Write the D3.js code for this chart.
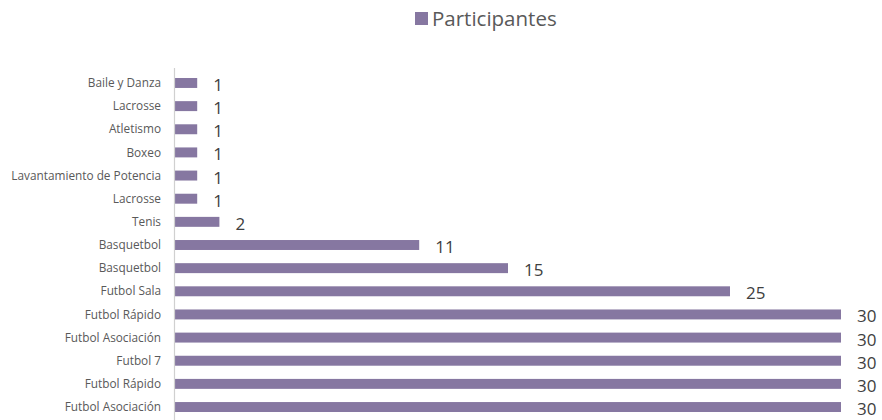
<!DOCTYPE html>
<html><head><meta charset="utf-8">
<script src="https://cdn.jsdelivr.net/npm/d3@7/dist/d3.min.js"></script>
<style>body{margin:0;background:#fff}svg{display:block}</style>
</head><body><svg id="c" width="882" height="420"></svg>
<script>
const categories = ["Futbol Asociación","Futbol Rápido","Futbol 7","Futbol Asociación","Futbol Rápido","Futbol Sala","Basquetbol","Basquetbol","Tenis","Lacrosse","Lavantamiento de Potencia","Boxeo","Atletismo","Lacrosse","Baile y Danza"];
const values = [30,30,30,30,30,25,15,11,2,1,1,1,1,1,1];
const seriesName = "Participantes";
const color = "#8677a1";

const svg = d3.select("#c");
const m = {left:175, right:41, top:71.4, bottom:1.4};
const W = 882, H = 420;
const idx = categories.map((d,i)=>i);
const x = d3.scaleLinear().domain([0,30]).range([m.left, W - m.right]);
const y = d3.scaleBand().domain(idx.slice().reverse()).range([m.top, H - m.bottom]).paddingInner(0.57).paddingOuter(0.285);
const font = "'Open Sans', Lato, sans-serif";

svg.selectAll("rect.bar").data(idx).join("rect").attr("class","bar")
  .attr("x", x(0)).attr("y", i=>y(i)).attr("width", i=>x(values[i])-x(0)).attr("height", y.bandwidth()).attr("fill", color);

svg.append("line").attr("x1",x(0)-0.5).attr("x2",x(0)-0.5).attr("y1",68).attr("y2",420).attr("stroke","#d0d0d0").attr("stroke-width",1.2);

svg.selectAll("text.cat").data(idx).join("text").attr("class","cat")
  .attr("x", 161).attr("y", i=>y(i)+y.bandwidth()/2).attr("dy","0.35em")
  .attr("text-anchor","end").attr("font-family",font).attr("font-size",11.8).attr("fill","#595959")
  .text(i=>categories[i]);

svg.selectAll("text.val").data(idx).join("text").attr("class","val")
  .attr("x", i=>x(values[i])+16).attr("y", i=>y(i)+y.bandwidth()/2+2).attr("dy","0.35em")
  .attr("font-family",font).attr("font-size",17).attr("fill","#404040")
  .text(i=>values[i]);

const lg = svg.append("g");
lg.append("rect").attr("x",415).attr("y",12).attr("width",13).attr("height",13).attr("fill",color);
lg.append("text").attr("x",432).attr("y",19).attr("dy","0.35em").attr("font-family",font).attr("font-size",20.5).attr("fill","#595959").text(seriesName);
</script></body></html>
